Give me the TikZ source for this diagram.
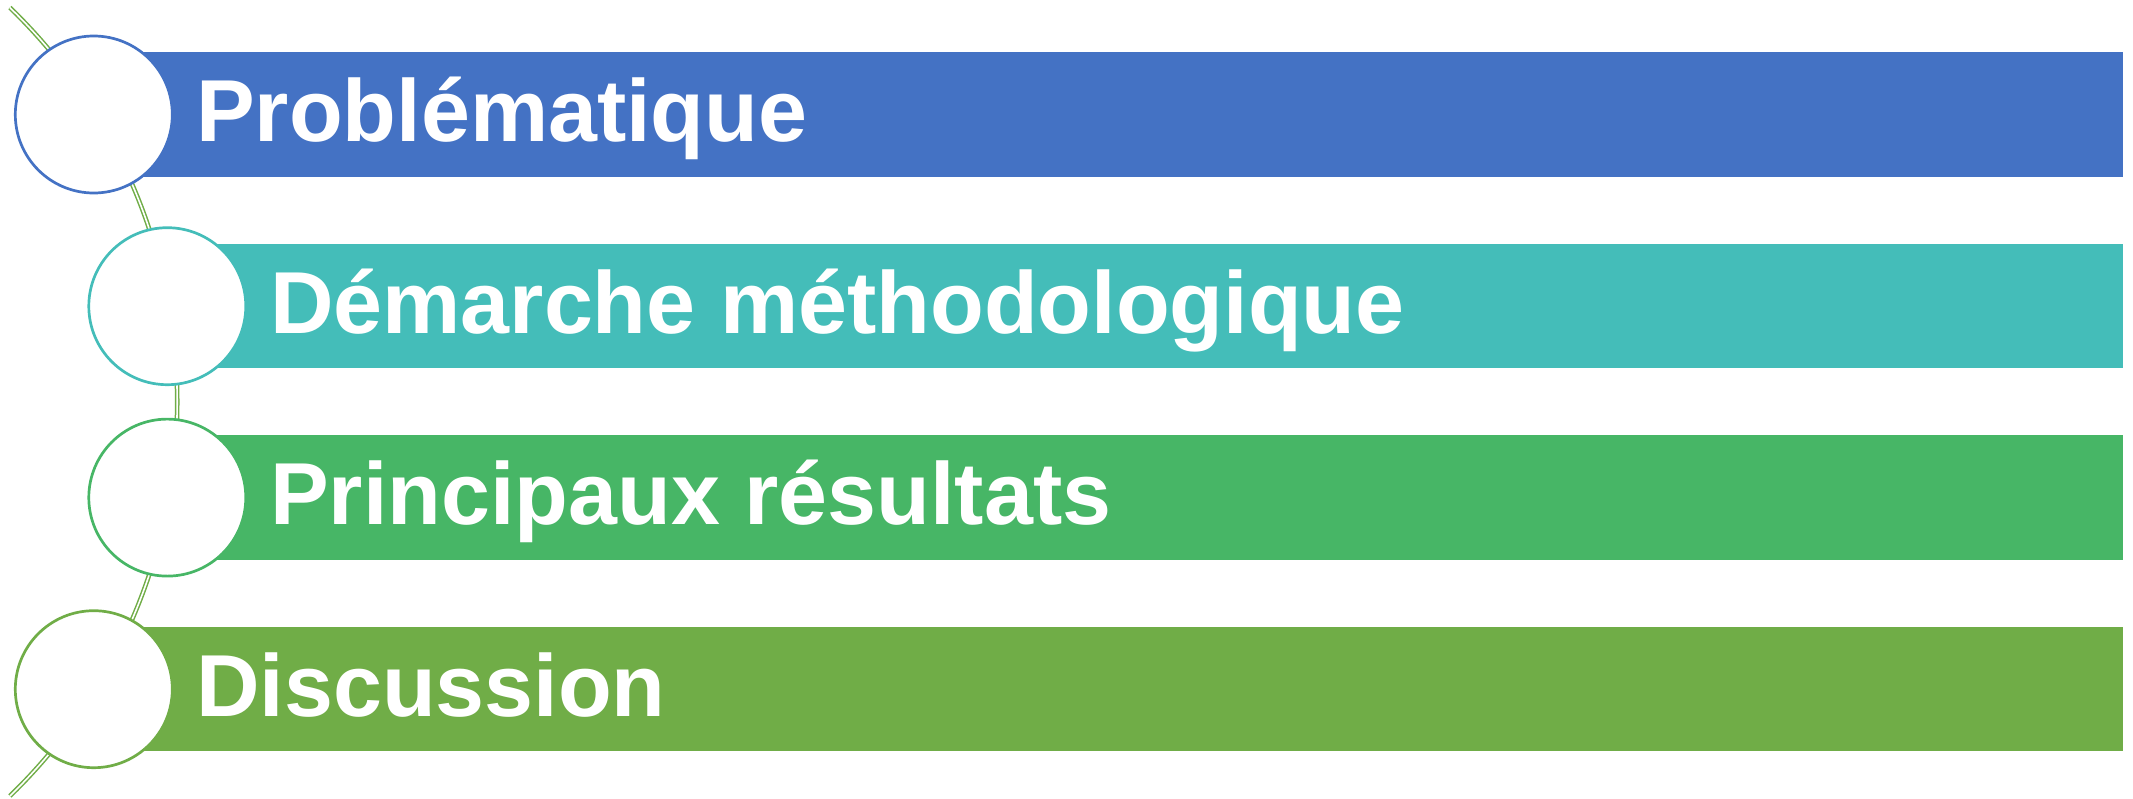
\documentclass[tikz,border=0pt]{standalone}
\usepackage{fontspec}
\setmainfont{Liberation Sans}
\definecolor{cblue}{HTML}{4472C4}
\definecolor{cteal}{HTML}{44BDB9}
\definecolor{cgreen}{HTML}{47B666}
\definecolor{colive}{HTML}{70AD47}
\begin{document}
\begin{tikzpicture}[x=1pt,y=-1pt,
  ring/.style={circle,draw=#1,line width=2.7pt,fill=white,minimum size=157pt,inner sep=0pt},
  label/.style={anchor=base west,inner sep=0pt,text=white,font=\fontsize{88}{100}\selectfont\bfseries},
  band/.style={fill=#1}]
\useasboundingbox (0,0) rectangle (2133,798);
% arc
\coordinate (ac) at (-370.8,401.8);
\draw[colive,line width=1.5pt,double=white,double distance=1.6pt]
  ([shift={(-46:548)}]ac) arc[start angle=-46,end angle=46,radius=548];
% bars
\fill[band=cblue]  (94,52.3) rectangle (2122.7,176.7);
\fill[band=cteal]  (167.3,244) rectangle (2122.7,368.3);
\fill[band=cgreen] (167.3,435.3) rectangle (2122.7,559.8);
\fill[band=colive] (94,626.9) rectangle (2122.7,751.4);
% circles
\node[ring=cblue]  (c1) at (93.8,114.5) {};
\node[ring=cteal]  (c2) at (167.3,306.2) {};
\node[ring=cgreen] (c3) at (167.3,497.6) {};
\node[ring=colive] (c4) at (93.8,689.2) {};
% labels
\node[label] (t1) at (196,141.5) {Problématique};
\node[label] (t2) at (270,333) {Démarche méthodologique};
\node[label] (t3) at (270,524.4) {Principaux résultats};
\node[label] (t4) at (196,716) {Discussion};
\end{tikzpicture}
\end{document}
